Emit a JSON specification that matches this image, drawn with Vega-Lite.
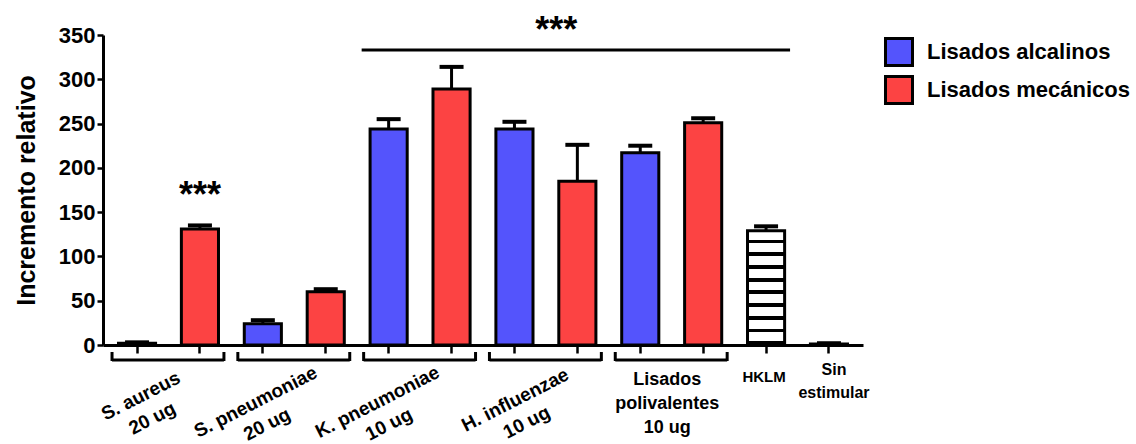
{
  "$schema": "https://vega.github.io/schema/vega-lite/v6.json",
  "width": 760,
  "height": 310,
  "autosize": {"type": "none"},
  "padding": {"left": 103, "top": 35, "right": 273, "bottom": 99},
  "background": "white",
  "config": {"font": "Liberation Sans", "view": {"stroke": null}},
  "datasets": {
    "barras": [
      {"cat": "S. aureus alcalinos", "tipo": "Lisados alcalinos", "valor": 2, "sup": 3},
      {"cat": "S. aureus mecánicos", "tipo": "Lisados mecánicos", "valor": 131, "sup": 135},
      {"cat": "S. pneumoniae alcalinos", "tipo": "Lisados alcalinos", "valor": 24, "sup": 28},
      {"cat": "S. pneumoniae mecánicos", "tipo": "Lisados mecánicos", "valor": 60, "sup": 63},
      {"cat": "K. pneumoniae alcalinos", "tipo": "Lisados alcalinos", "valor": 244, "sup": 255},
      {"cat": "K. pneumoniae mecánicos", "tipo": "Lisados mecánicos", "valor": 289, "sup": 314},
      {"cat": "H. influenzae alcalinos", "tipo": "Lisados alcalinos", "valor": 244, "sup": 252},
      {"cat": "H. influenzae mecánicos", "tipo": "Lisados mecánicos", "valor": 185, "sup": 226},
      {"cat": "Polivalentes alcalinos", "tipo": "Lisados alcalinos", "valor": 217, "sup": 225},
      {"cat": "Polivalentes mecánicos", "tipo": "Lisados mecánicos", "valor": 251, "sup": 256},
      {"cat": "HKLM", "tipo": "HKLM", "valor": 129, "sup": 134},
      {"cat": "Sin estimular", "tipo": "Sin estimular", "valor": 1, "sup": 2}
    ],
    "grupos": [
      {"grupo": "S. aureus", "texto": "S. aureus\n20 ug", "izq": "S. aureus alcalinos", "der": "S. aureus mecánicos"},
      {"grupo": "S. pneumoniae", "texto": "S. pneumoniae\n20 ug", "izq": "S. pneumoniae alcalinos", "der": "S. pneumoniae mecánicos"},
      {"grupo": "K. pneumoniae", "texto": "K. pneumoniae\n10 ug", "izq": "K. pneumoniae alcalinos", "der": "K. pneumoniae mecánicos"},
      {"grupo": "H. influenzae", "texto": "H. influenzae\n10 ug", "izq": "H. influenzae alcalinos", "der": "H. influenzae mecánicos"},
      {"grupo": "Polivalentes", "texto": "Lisados\npolivalentes\n10 ug", "izq": "Polivalentes alcalinos", "der": "Polivalentes mecánicos"}
    ],
    "solos": [
      {"grupo": "HKLM", "texto": "HKLM", "cat": "HKLM"},
      {"grupo": "Sin estimular", "texto": "Sin\nestimular", "cat": "Sin estimular"}
    ]
  },
  "layer": [
    {
      "data": {"name": "barras"},
      "transform": [{"filter": {"field": "tipo", "oneOf": ["Lisados alcalinos", "Lisados mecánicos"]}}],
      "mark": {"type": "bar", "stroke": "black", "strokeWidth": 3, "fillOpacity": 1},
      "encoding": {
        "x": {
          "field": "cat", "type": "nominal", "sort": null,
          "scale": {
            "domain": ["S. aureus alcalinos", "S. aureus mecánicos", "S. pneumoniae alcalinos", "S. pneumoniae mecánicos", "K. pneumoniae alcalinos", "K. pneumoniae mecánicos", "H. influenzae alcalinos", "H. influenzae mecánicos", "Polivalentes alcalinos", "Polivalentes mecánicos", "HKLM", "Sin estimular"],
            "paddingInner": 0.41, "paddingOuter": 0.246
          },
          "axis": {"title": null, "labels": false, "domainColor": "black", "domainWidth": 3, "tickColor": "black", "tickWidth": 2.5, "tickSize": 8, "grid": false}
        },
        "y": {
          "field": "valor", "type": "quantitative",
          "scale": {"domain": [0, 350], "nice": false, "zero": true},
          "axis": {
            "title": "Incremento relativo", "values": [0, 50, 100, 150, 200, 250, 300, 350],
            "grid": false, "domainColor": "black", "domainWidth": 3, "tickColor": "black", "tickWidth": 2.5, "tickSize": 6,
            "labelFontSize": 22, "labelFontWeight": "bold", "labelColor": "black", "labelPadding": 2,
            "titleFontSize": 25, "titleFontWeight": "bold", "titleColor": "black", "titlePadding": 19
          }
        },
        "color": {
          "field": "tipo", "type": "nominal",
          "scale": {"domain": ["Lisados alcalinos", "Lisados mecánicos"], "range": ["#5454fc", "#fc4343"]},
          "legend": {
            "title": null, "orient": "none", "legendX": 781, "legendY": 2,
            "symbolType": "square", "symbolSize": 729, "symbolStrokeColor": "black", "symbolStrokeWidth": 3, "symbolOpacity": 1,
            "labelFontSize": 22, "labelFontWeight": "bold", "labelColor": "black", "labelOffset": 13, "labelLimit": 400, "rowPadding": -2
          }
        }
      }
    },
    {
      "data": {"name": "barras"},
      "transform": [{"filter": {"field": "tipo", "oneOf": ["HKLM", "Sin estimular"]}}],
      "mark": {
        "type": "bar", "stroke": "black", "strokeWidth": 3,
        "fill": {
          "gradient": "linear", "x1": 0, "y1": 0, "x2": 0, "y2": 1,
          "stops": [
            {"offset": 0, "color": "white"}, {"offset": 0.0778, "color": "white"}, {"offset": 0.0778, "color": "black"}, {"offset": 0.1111, "color": "black"},
            {"offset": 0.1111, "color": "white"}, {"offset": 0.1889, "color": "white"}, {"offset": 0.1889, "color": "black"}, {"offset": 0.2222, "color": "black"},
            {"offset": 0.2222, "color": "white"}, {"offset": 0.3, "color": "white"}, {"offset": 0.3, "color": "black"}, {"offset": 0.3333, "color": "black"},
            {"offset": 0.3333, "color": "white"}, {"offset": 0.4111, "color": "white"}, {"offset": 0.4111, "color": "black"}, {"offset": 0.4444, "color": "black"},
            {"offset": 0.4444, "color": "white"}, {"offset": 0.5222, "color": "white"}, {"offset": 0.5222, "color": "black"}, {"offset": 0.5556, "color": "black"},
            {"offset": 0.5556, "color": "white"}, {"offset": 0.6333, "color": "white"}, {"offset": 0.6333, "color": "black"}, {"offset": 0.6667, "color": "black"},
            {"offset": 0.6667, "color": "white"}, {"offset": 0.7444, "color": "white"}, {"offset": 0.7444, "color": "black"}, {"offset": 0.7778, "color": "black"},
            {"offset": 0.7778, "color": "white"}, {"offset": 0.8556, "color": "white"}, {"offset": 0.8556, "color": "black"}, {"offset": 0.8889, "color": "black"},
            {"offset": 0.8889, "color": "white"}, {"offset": 0.9667, "color": "white"}, {"offset": 0.9667, "color": "black"}, {"offset": 1, "color": "black"}
          ]
        }
      },
      "encoding": {
        "x": {"field": "cat", "type": "nominal", "sort": null},
        "y": {"field": "valor", "type": "quantitative"}
      }
    },
    {
      "data": {"name": "barras"},
      "mark": {"type": "rule", "color": "black", "strokeWidth": 3},
      "encoding": {
        "x": {"field": "cat", "type": "nominal", "sort": null},
        "y": {"field": "valor", "type": "quantitative"},
        "y2": {"field": "sup"}
      }
    },
    {
      "data": {"name": "barras"},
      "mark": {"type": "tick", "color": "black", "size": 24, "thickness": 4, "opacity": 1},
      "encoding": {
        "x": {"field": "cat", "type": "nominal", "sort": null},
        "y": {"field": "sup", "type": "quantitative"}
      }
    },
    {
      "data": {"name": "grupos"},
      "mark": {"type": "rule", "color": "black", "strokeWidth": 3, "xOffset": -25, "x2Offset": 24, "yOffset": 15},
      "encoding": {
        "x": {"field": "izq", "type": "nominal"},
        "x2": {"field": "der"},
        "y": {"datum": 0}
      }
    },
    {
      "data": {"name": "grupos"},
      "mark": {"type": "rule", "color": "black", "strokeWidth": 3, "xOffset": -25, "yOffset": 7, "y2Offset": 16},
      "encoding": {
        "x": {"field": "izq", "type": "nominal"},
        "y": {"datum": 0},
        "y2": {"datum": 0}
      }
    },
    {
      "data": {"name": "grupos"},
      "mark": {"type": "rule", "color": "black", "strokeWidth": 3, "xOffset": 24, "yOffset": 7, "y2Offset": 16},
      "encoding": {
        "x": {"field": "der", "type": "nominal"},
        "y": {"datum": 0},
        "y2": {"datum": 0}
      }
    },
    {
      "data": {"name": "grupos"},
      "transform": [{"filter": "datum.grupo === 'S. aureus'"}],
      "mark": {"type": "text", "angle": -27, "align": "center", "baseline": "middle", "fontSize": 19, "fontWeight": "bold", "color": "black", "lineBreak": "\n", "lineHeight": 25, "xOffset": -59, "yOffset": 51},
      "encoding": {"x": {"field": "der", "type": "nominal"}, "y": {"datum": 0}, "text": {"field": "texto"}}
    },
    {
      "data": {"name": "grupos"},
      "transform": [{"filter": "datum.grupo === 'S. pneumoniae'"}],
      "mark": {"type": "text", "angle": -27, "align": "center", "baseline": "middle", "fontSize": 19, "fontWeight": "bold", "color": "black", "lineBreak": "\n", "lineHeight": 25, "xOffset": -70, "yOffset": 57},
      "encoding": {"x": {"field": "der", "type": "nominal"}, "y": {"datum": 0}, "text": {"field": "texto"}}
    },
    {
      "data": {"name": "grupos"},
      "transform": [{"filter": "datum.grupo === 'K. pneumoniae'"}],
      "mark": {"type": "text", "angle": -27, "align": "center", "baseline": "middle", "fontSize": 19, "fontWeight": "bold", "color": "black", "lineBreak": "\n", "lineHeight": 25, "xOffset": -74, "yOffset": 57},
      "encoding": {"x": {"field": "der", "type": "nominal"}, "y": {"datum": 0}, "text": {"field": "texto"}}
    },
    {
      "data": {"name": "grupos"},
      "transform": [{"filter": "datum.grupo === 'H. influenzae'"}],
      "mark": {"type": "text", "angle": -27, "align": "center", "baseline": "middle", "fontSize": 19, "fontWeight": "bold", "color": "black", "lineBreak": "\n", "lineHeight": 25, "xOffset": -62, "yOffset": 55},
      "encoding": {"x": {"field": "der", "type": "nominal"}, "y": {"datum": 0}, "text": {"field": "texto"}}
    },
    {
      "data": {"name": "grupos"},
      "transform": [{"filter": "datum.grupo === 'Polivalentes'"}],
      "mark": {"type": "text", "align": "center", "baseline": "top", "fontSize": 18, "fontWeight": "bold", "color": "black", "lineBreak": "\n", "lineHeight": 24, "xOffset": -36, "yOffset": 26},
      "encoding": {"x": {"field": "der", "type": "nominal"}, "y": {"datum": 0}, "text": {"field": "texto"}}
    },
    {
      "data": {"name": "solos"},
      "transform": [{"filter": "datum.grupo === 'HKLM'"}],
      "mark": {"type": "text", "align": "center", "baseline": "top", "fontSize": 15, "fontWeight": "bold", "color": "black", "xOffset": -2, "yOffset": 25},
      "encoding": {"x": {"field": "cat", "type": "nominal"}, "y": {"datum": 0}, "text": {"field": "texto"}}
    },
    {
      "data": {"name": "solos"},
      "transform": [{"filter": "datum.grupo === 'Sin estimular'"}],
      "mark": {"type": "text", "align": "center", "baseline": "top", "fontSize": 16, "fontWeight": "bold", "color": "black", "lineBreak": "\n", "lineHeight": 23, "xOffset": 5, "yOffset": 17},
      "encoding": {"x": {"field": "cat", "type": "nominal"}, "y": {"datum": 0}, "text": {"field": "texto"}}
    },
    {
      "data": {"values": [{}]},
      "mark": {"type": "rule", "color": "black", "strokeWidth": 3, "xOffset": -27, "x2Offset": 24},
      "encoding": {
        "x": {"datum": "K. pneumoniae alcalinos"},
        "x2": {"datum": "HKLM"},
        "y": {"datum": 333}
      }
    },
    {
      "data": {"values": [{}]},
      "mark": {"type": "text", "text": "***", "align": "center", "baseline": "alphabetic", "fontSize": 36, "fontWeight": "bold", "color": "black", "xOffset": -21},
      "encoding": {
        "x": {"datum": "H. influenzae mecánicos"},
        "y": {"datum": 342}
      }
    },
    {
      "data": {"values": [{}]},
      "mark": {"type": "text", "text": "***", "align": "center", "baseline": "alphabetic", "fontSize": 36, "fontWeight": "bold", "color": "black"},
      "encoding": {
        "x": {"datum": "S. aureus mecánicos"},
        "y": {"datum": 156}
      }
    }
  ]
}
